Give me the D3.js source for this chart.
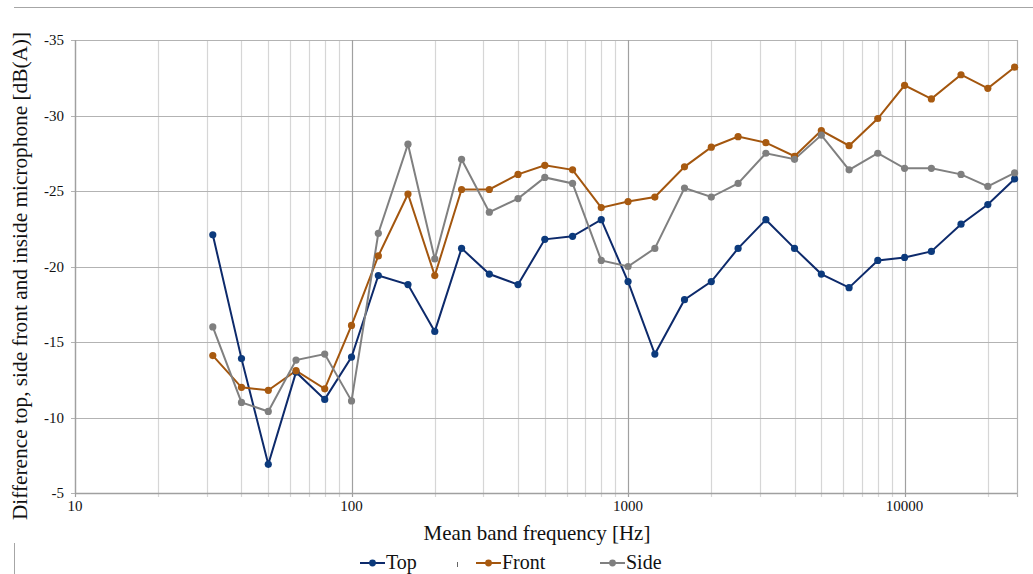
<html>
<head>
<meta charset="utf-8">
<script src="https://d3js.org/d3.v7.min.js"></script>
<style>
body { margin: 0; background: #fff; }
text { font-family: "Liberation Serif", "Times New Roman", serif; fill: #111; }
</style>
</head>
<body>
<svg id="chart"></svg>
<script>
// third-octave band centre frequencies [Hz]
var freqs = [31.5, 40, 50, 63, 80, 100, 125, 160, 200, 250, 315, 400, 500, 630, 800,
  1000, 1250, 1600, 2000, 2500, 3150, 4000, 5000, 6300, 8000, 10000, 12500, 16000, 20000, 25000];

var topVals = [-22.1, -13.9, -6.9, -13.0, -11.2, -14.0, -19.4, -18.8, -15.7, -21.2, -19.5, -18.8, -21.8, -22.0, -23.1,
  -19.0, -14.2, -17.8, -19.0, -21.2, -23.1, -21.2, -19.5, -18.6, -20.4, -20.6, -21.0, -22.8, -24.1, -25.8];
var frontVals = [-14.1, -12.0, -11.8, -13.1, -11.9, -16.1, -20.7, -24.8, -19.4, -25.1, -25.1, -26.1, -26.7, -26.4, -23.9,
  -24.3, -24.6, -26.6, -27.9, -28.6, -28.2, -27.3, -29.0, -28.0, -29.8, -32.0, -31.1, -32.7, -31.8, -33.2];
var sideVals = [-16.0, -11.0, -10.4, -13.8, -14.2, -11.1, -22.2, -28.1, -20.5, -27.1, -23.6, -24.5, -25.9, -25.5, -20.4,
  -20.0, -21.2, -25.2, -24.6, -25.5, -27.5, -27.1, -28.7, -26.4, -27.5, -26.5, -26.5, -26.1, -25.3, -26.2];

var seriesNames = ["Top", "Front", "Side"];
var seriesColors = ["#0d2a6b", "#a3560e", "#808080"];
var markerColors = ["#0c3a7c", "#a85a10", "#7f7f7f"];

var xTicks = [10, 100, 1000, 10000];
var yTicks = [-35, -30, -25, -20, -15, -10, -5];

var W = 1033, H = 574;
var pLeft = 75, pRight = 1017, pTop = 40, pBottom = 493;

var svg = d3.select("#chart").attr("width", W).attr("height", H);

var x = d3.scaleLog().domain([10, 25500]).range([pLeft, pRight]);
var y = d3.scaleLinear().domain([-5, -35]).range([pBottom, pTop]);

// frame lines around the page
svg.append("line").attr("x1", 14).attr("x2", W).attr("y1", 7.5).attr("y2", 7.5)
  .attr("stroke", "#a6a6a6").attr("stroke-width", 1);
svg.append("line").attr("x1", 14.5).attr("x2", 14.5).attr("y1", 543).attr("y2", H)
  .attr("stroke", "#a6a6a6").attr("stroke-width", 1);

// minor vertical grid
var minor = [];
[10, 100, 1000, 10000].forEach(function (d) {
  for (var k = 2; k <= 9; k++) if (d * k <= 25500) minor.push(d * k);
});
svg.append("g").selectAll("line").data(minor).enter().append("line")
  .attr("x1", function (d) { return Math.round(x(d)) + 0.5; })
  .attr("x2", function (d) { return Math.round(x(d)) + 0.5; })
  .attr("y1", pTop).attr("y2", pBottom + 4)
  .attr("stroke", "#d6d6d6").attr("stroke-width", 1.2);

// horizontal grid
svg.append("g").selectAll("line").data(yTicks).enter().append("line")
  .attr("x1", pLeft - 4).attr("x2", pRight)
  .attr("y1", function (d) { return Math.round(y(d)) + 0.5; })
  .attr("y2", function (d) { return Math.round(y(d)) + 0.5; })
  .attr("stroke", "#b3b3b3").attr("stroke-width", 1.2);

// major vertical grid
svg.append("g").selectAll("line").data(xTicks).enter().append("line")
  .attr("x1", function (d) { return Math.round(x(d)) + 0.5; })
  .attr("x2", function (d) { return Math.round(x(d)) + 0.5; })
  .attr("y1", pTop).attr("y2", pBottom + 4)
  .attr("stroke", "#a0a0a0").attr("stroke-width", 1.2);

// right edge
svg.append("line").attr("x1", pRight + 0.5).attr("x2", pRight + 0.5).attr("y1", pTop).attr("y2", pBottom + 4)
  .attr("stroke", "#b3b3b3").attr("stroke-width", 1.2);

// axes lines
svg.append("line").attr("x1", pLeft + 0.5).attr("x2", pLeft + 0.5).attr("y1", pTop).attr("y2", pBottom)
  .attr("stroke", "#a0a0a0").attr("stroke-width", 1.3);
svg.append("line").attr("x1", pLeft).attr("x2", pRight).attr("y1", pBottom + 0.5).attr("y2", pBottom + 0.5)
  .attr("stroke", "#a0a0a0").attr("stroke-width", 1.3);

// tick labels
svg.append("g").selectAll("text").data(yTicks).enter().append("text")
  .attr("x", 64).attr("y", function (d) { return y(d) + 5; })
  .attr("text-anchor", "end").attr("font-size", 15)
  .text(function (d) { return d; });

svg.append("g").selectAll("text").data(xTicks).enter().append("text")
  .attr("x", function (d) { return x(d); }).attr("y", 511)
  .attr("text-anchor", "middle").attr("font-size", 15)
  .text(function (d) { return d; });

// axis titles
svg.append("text").attr("x", 537).attr("y", 540).attr("text-anchor", "middle")
  .attr("font-size", 21).text("Mean band frequency [Hz]");
svg.append("text").attr("transform", "translate(27,276) rotate(-90)")
  .attr("text-anchor", "middle").attr("font-size", 21.3)
  .text("Difference top, side front and inside microphone [dB(A)]");

// series
var allVals = [topVals, frontVals, sideVals];
var line = d3.line().x(function (d, i) { return x(freqs[i]); }).y(function (d) { return y(d); });

allVals.forEach(function (vals, s) {
  svg.append("path").datum(vals).attr("d", line)
    .attr("fill", "none").attr("stroke", seriesColors[s]).attr("stroke-width", 2);
});
allVals.forEach(function (vals, s) {
  svg.append("g").selectAll("circle").data(vals).enter().append("circle")
    .attr("cx", function (d, i) { return x(freqs[i]); })
    .attr("cy", function (d) { return y(d); })
    .attr("r", 3.6).attr("fill", markerColors[s]);
});

// legend
var legendX = [360, 476, 600];
seriesNames.forEach(function (name, s) {
  var g = svg.append("g").attr("transform", "translate(" + legendX[s] + ",563)");
  g.append("line").attr("x1", 0).attr("x2", 25).attr("y1", 0).attr("y2", 0)
    .attr("stroke", seriesColors[s]).attr("stroke-width", 2);
  g.append("circle").attr("cx", 12.5).attr("cy", 0).attr("r", 3.4).attr("fill", markerColors[s]);
  g.append("text").attr("x", 26).attr("y", 6).attr("font-size", 20).text(name);
});
svg.append("line").attr("x1", 457.5).attr("x2", 457.5).attr("y1", 562).attr("y2", 567)
  .attr("stroke", "#666").attr("stroke-width", 1);
</script>
</body>
</html>
